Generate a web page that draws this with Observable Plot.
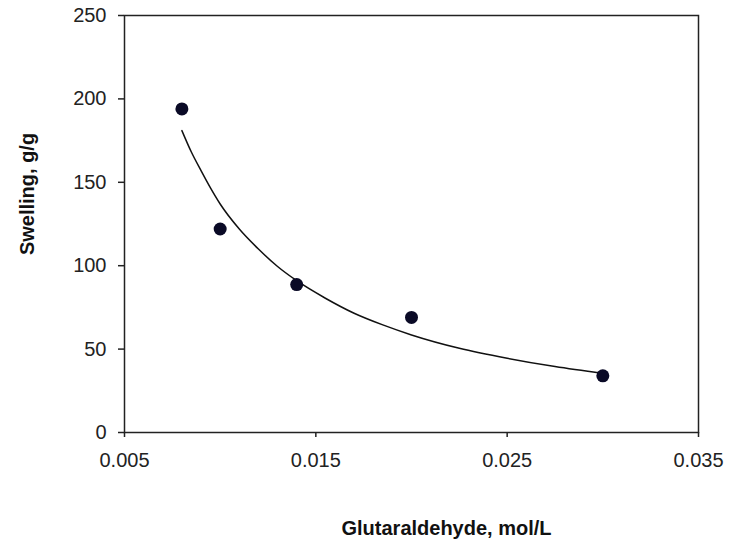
<!DOCTYPE html>
<html>
<head>
<meta charset="utf-8">
<script src="https://cdn.jsdelivr.net/npm/d3@7"></script>
<script src="https://cdn.jsdelivr.net/npm/@observablehq/plot@0.6"></script>
<style>
  html, body { margin: 0; padding: 0; background: #fff; }
  #chart svg { display: block; }
</style>
</head>
<body>
<div id="chart"></div>
<script>
// Measured points
const concentration = [0.008, 0.010, 0.014, 0.020, 0.030];
const swelling = [194, 122, 88.7, 69, 34];

// Trend curve
const curveX = [0.008, 0.0085, 0.009, 0.0095, 0.010, 0.011, 0.012, 0.013, 0.014, 0.0155, 0.017, 0.0185, 0.020, 0.0225, 0.025, 0.0275, 0.030];
const curveY = [181, 168, 157, 146.5, 137, 122, 110, 99.5, 91, 80.5, 71.5, 64.5, 58.5, 50.5, 44.5, 39.5, 35.4];

const xTicks = [0.005, 0.015, 0.025, 0.035];
const yTicks = [0, 50, 100, 150, 200, 250];
const xLabel = "Glutaraldehyde, mol/L";
const yLabel = "Swelling, g/g";

const points = concentration.map((x, i) => ({x, y: swelling[i]}));
const curve = curveX.map((x, i) => ({x, y: curveY[i]}));

const font = "'Liberation Sans', Arial, sans-serif";

const chart = Plot.plot({
  width: 730,
  height: 541,
  marginLeft: 124,
  marginRight: 32,
  marginTop: 15,
  marginBottom: 109,
  style: {fontFamily: font, color: "#222", background: "#fff"},
  x: {domain: [0.005, 0.035]},
  y: {domain: [0, 250]},
  marks: [
    Plot.frame({stroke: "#222", strokeWidth: 1.5}),
    Plot.axisX({ticks: xTicks, tickFormat: d => d.toFixed(3), tickSize: 5, tickPadding: 15, strokeWidth: 1.5,
      fontSize: 20, label: null}),
    Plot.axisY({ticks: yTicks, tickSize: 6, tickPadding: 12, strokeWidth: 1.5,
      fontSize: 20, label: null}),
    Plot.text([xLabel], {frameAnchor: "bottom", dy: 96, dx: 35, text: d => d, fontWeight: "bold", fontSize: 20, fill: "#111", textAnchor: "middle", lineAnchor: "middle"}),
    Plot.text([yLabel], {frameAnchor: "left", dx: -97, dy: -30, rotate: -90, text: d => d, fontWeight: "bold", fontSize: 20, fill: "#111", textAnchor: "middle", lineAnchor: "middle"}),
    Plot.line(curve, {x: "x", y: "y", curve: "monotone-x", stroke: "#111", strokeWidth: 1.5}),
    Plot.dot(points, {x: "x", y: "y", r: 6.5, fill: "#0a0a26", stroke: "none"})
  ]
});
document.getElementById("chart").appendChild(chart);
</script>
</body>
</html>
